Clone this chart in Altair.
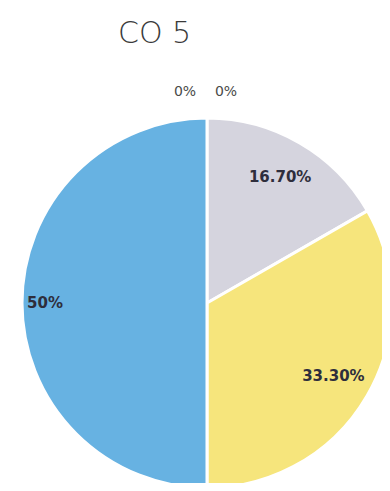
import altair as alt
import pandas as pd

categories = ["A", "B", "C", "D", "E"]
values = [0, 0, 16.7, 33.3, 50]
labels = ["0%", "0%", "16.70%", "33.30%", "50%"]
order_idx = [0, 1, 2, 3, 4]
colors = ["#e8c8c8", "#c8e0c8", "#d5d4de", "#f6e57c", "#67b2e2"]

df = pd.DataFrame({"cat": categories, "value": values, "label": labels, "idx": order_idx})

CX, CY, R = 199, 295, 185

theta = alt.Theta("value:Q", stack=True)
order = alt.Order("idx:Q")

base = alt.Chart(df)

pie = base.mark_arc(radius=R, stroke="white", strokeWidth=3).encode(
    theta=theta,
    order=order,
    color=alt.Color("cat:N", scale=alt.Scale(domain=categories, range=colors), legend=None),
    x=alt.value(CX),
    y=alt.value(CY),
)


def label_layer(cond, radius, dx, style):
    # keep all rows so the stack stays intact; blank out labels not in this layer
    return base.transform_calculate(
        shown=alt.expr.if_(cond, alt.datum.label, "")
    ).mark_text(radius=radius, dx=dx, **style).encode(
        theta=theta, order=order, text="shown:N", x=alt.value(CX), y=alt.value(CY)
    )


label_style = dict(font="DejaVu Sans", fontWeight="bold", fontSize=15, color="#2e2e3c")
zero_style = dict(font="DejaVu Sans", fontSize=14, color="#4a4a4a")

mid_labels = label_layer((alt.datum.value > 0) & (alt.datum.value < 50), 146, 0, label_style)
half_label = label_layer(alt.datum.value >= 50, 162, 0, label_style)
zero1 = label_layer(alt.datum.cat == "A", 211, -22, zero_style)
zero2 = label_layer(alt.datum.cat == "B", 211, 19, zero_style)

title = alt.Chart(pd.DataFrame({"t": ["CO 5"]})).mark_text(
    font="DejaVu Sans", fontSize=30, fontWeight=300, color="#3a3a3a", align="left", baseline="alphabetic"
).encode(text="t:N", x=alt.value(110), y=alt.value(35))

chart = alt.layer(pie, mid_labels, half_label, zero1, zero2, title).properties(
    width=374, height=475, padding=0, autosize=alt.AutoSizeParams(type="none")
).configure_view(stroke=None)

chart.save("out.html", embed_options={"renderer": "svg", "actions": False})
